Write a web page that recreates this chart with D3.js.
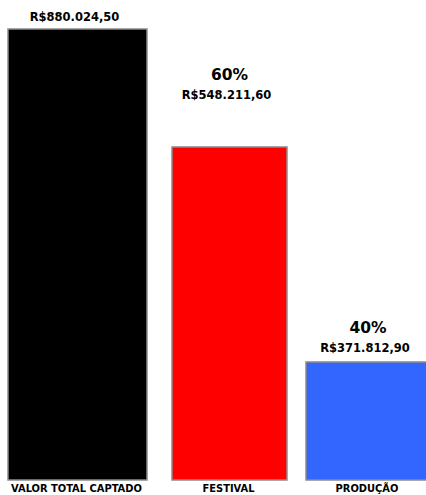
<!DOCTYPE html>
<html>
<head>
<meta charset="utf-8">
<script src="https://cdn.jsdelivr.net/npm/d3@7"></script>
<style>
  html, body { margin: 0; padding: 0; background: #fff; }
  svg { display: block; }
  text { font-family: "DejaVu Sans", Verdana, sans-serif; font-weight: bold; fill: #000; }
  text.cat { font-family: "DejaVu Sans Condensed", "DejaVu Sans", sans-serif; }
</style>
</head>
<body>
<svg id="chart" width="426" height="495"></svg>
<script>
// Fundraising breakdown
const categories = ["VALOR TOTAL CAPTADO", "FESTIVAL", "PRODUÇÃO"];
const values = [880024.50, 548211.60, 371812.90];
const valueLabels = ["R$880.024,50", "R$548.211,60", "R$371.812,90"];
const shareLabels = ["", "60%", "40%"];
const colors = ["#000000", "#ff0000", "#3366ff"];

const W = 426, H = 495;
const baseY = 480, topY = 29;

const svg = d3.select("#chart");

// Truncated value axis; the total bar is clamped at the top of the plot.
const y = d3.scaleLinear()
  .domain([275000, 645000])
  .range([baseY, topY])
  .clamp(true);

const xLeft = d3.scaleOrdinal(categories, [8, 172, 306]);
const barW = d3.scaleOrdinal(categories, [139, 115, 124]);
const labelGap = d3.scaleOrdinal(categories, [8, 48, 10]);

const rows = categories.map((c, i) => ({
  cat: c, value: values[i], label: valueLabels[i], share: shareLabels[i], color: colors[i]
}));

const g = svg.selectAll("g.bar").data(rows).join("g").attr("class", "bar");

g.append("rect")
  .attr("x", d => xLeft(d.cat))
  .attr("y", d => y(d.value))
  .attr("width", d => barW(d.cat))
  .attr("height", d => baseY - y(d.value))
  .attr("fill", d => d.color)
  .attr("stroke", "#8c8c8c")
  .attr("stroke-width", 1.5);

const cx = d => xLeft(d.cat) + barW(d.cat) / 2;

g.append("text")
  .attr("x", d => cx(d) - 3)
  .attr("y", d => y(d.value) - labelGap(d.cat))
  .attr("text-anchor", "middle")
  .attr("font-size", 11.5)
  .text(d => d.label);

g.filter(d => d.share !== "").append("text")
  .attr("x", d => cx(d))
  .attr("y", d => y(d.value) - labelGap(d.cat) - 19)
  .attr("text-anchor", "middle")
  .attr("font-size", 15.5)
  .text(d => d.share);

g.append("text")
  .attr("class", "cat")
  .attr("x", d => cx(d) - 1)
  .attr("y", 491.5)
  .attr("text-anchor", "middle")
  .attr("font-size", 11)
  .text(d => d.cat);
</script>
</body>
</html>
